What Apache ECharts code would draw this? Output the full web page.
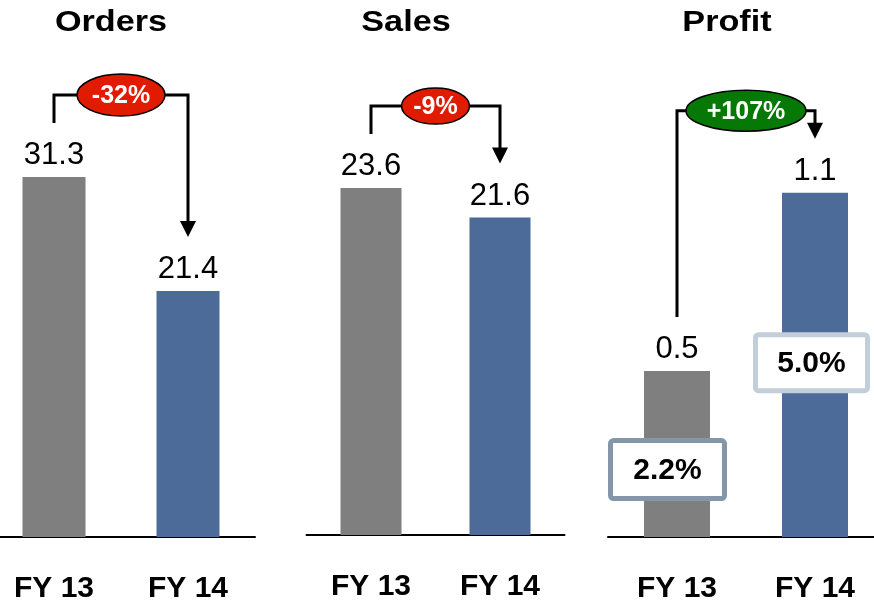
<!DOCTYPE html>
<html>
<head>
<meta charset="utf-8">
<script src="https://cdn.jsdelivr.net/npm/echarts@6/dist/echarts.min.js"></script>
<style>
html,body{margin:0;padding:0;background:#fff;}
#chart{width:874px;height:601px;}
</style>
</head>
<body>
<div id="chart"></div>
<script>
// ---- data ----
const categories = ['FY 13', 'FY 14'];
const panelTitles = ['Orders', 'Sales', 'Profit'];
const orders = [31.3, 21.4];
const sales = [23.6, 21.6];
const profit = [0.53, 1.1];
const changeLabels = ['-32%', '-9%', '+107%'];
const marginLabels = ['2.2%', '5.0%'];

const FONT = "'Liberation Sans', Arial, Helvetica, sans-serif";
const GRAY = '#7f7f7f';
const BLUE = '#4d6b99';

const chart = echarts.init(document.getElementById('chart'), null, {renderer: 'canvas'});

const grids = [
  {left: -13, width: 268, top: 77, height: 460, outerBoundsMode: 'none', containLabel: false},
  {left: 306.5, width: 258, top: 94, height: 441, outerBoundsMode: 'none', containLabel: false},
  {left: 608, width: 276, top: 67.5, height: 469.5, outerBoundsMode: 'none', containLabel: false}
];
const yMax = [40, 30, 1.5];
const barW = [63, 61, 66];
const panels = [orders, sales, profit];

const xAxes = grids.map((g, i) => ({
  type: 'category', gridIndex: i, data: categories,
  axisLine: {show: true, lineStyle: {color: '#000', width: 2}},
  axisTick: {show: false},
  axisLabel: {fontFamily: FONT, fontSize: 30, fontWeight: 'bold', color: '#000', margin: 37}
}));
const yAxes = grids.map((g, i) => ({
  type: 'value', gridIndex: i, min: 0, max: yMax[i], show: false, splitLine: {show: false}
}));
const series = panels.map((vals, i) => ({
  type: 'bar', xAxisIndex: i, yAxisIndex: i, barWidth: barW[i],
  data: vals.map((v, j) => ({value: v, itemStyle: {color: j === 0 ? GRAY : BLUE}})),
  label: {
    show: true, position: 'top', distance: 6,
    fontFamily: FONT, fontSize: 31, color: '#000',
    formatter: p => p.value.toFixed(1)
  },
  silent: true
}));

chart.setOption({
  animation: false,
  grid: grids,
  xAxis: xAxes,
  yAxis: yAxes,
  series: series
});

// ---- annotations computed from the data through the chart's scales ----
const titleX = [111, 406, 727];
const ellipseR = [[44, 21], [34, 18], [60, 20.5]];
const ellipseFill = ['#e01b00', '#e01b00', '#067806'];
const graphics = [];

panelTitles.forEach((t, i) => {
  graphics.push({
    type: 'text', x: titleX[i], y: 23, scaleX: 1.18,
    style: {text: t, font: 'bold 29px ' + FONT, fill: '#000', textAlign: 'center', textVerticalAlign: 'middle'}
  });
});

panels.forEach((vals, i) => {
  const p0 = chart.convertToPixel({seriesIndex: i}, [0, vals[0]]);
  const p1 = chart.convertToPixel({seriesIndex: i}, [1, vals[1]]);
  const hy = Math.min(p0[1], p1[1]) - 82;
  const tip = p1[1] - 54;
  graphics.push({
    type: 'polyline', z: 10,
    shape: {points: [[p0[0], p0[1] - 54], [p0[0], hy], [p1[0], hy], [p1[0], tip - 14]]},
    style: {stroke: '#000', lineWidth: 3, fill: null}
  });
  graphics.push({
    type: 'polygon', z: 10,
    shape: {points: [[p1[0] - 8, tip - 16], [p1[0] + 8, tip - 16], [p1[0], tip]]},
    style: {fill: '#000'}
  });
  const cx = (p0[0] + p1[0]) / 2;
  graphics.push({
    type: 'ellipse', z: 11,
    shape: {cx: cx, cy: hy, rx: ellipseR[i][0], ry: ellipseR[i][1]},
    style: {fill: ellipseFill[i], stroke: '#000', lineWidth: 1.5}
  });
  graphics.push({
    type: 'text', z: 12, x: cx, y: hy + 1,
    style: {text: changeLabels[i], font: 'bold 25px ' + FONT, fill: '#fff', textAlign: 'center', textVerticalAlign: 'middle'}
  });
});

// margin boxes on the profit bars
const boxDx = [-9.5, -3.5];
const boxDy = [98.5, 170];
const boxWH = [[114, 58], [112, 56]];
const boxStroke = ['#8497a9', '#c2cfdb'];
profit.forEach((v, j) => {
  const p = chart.convertToPixel({seriesIndex: 2}, [j, v]);
  const cx = p[0] + boxDx[j], cy = p[1] + boxDy[j];
  const w = boxWH[j][0], h = boxWH[j][1];
  graphics.push({
    type: 'rect', z: 10,
    shape: {x: cx - w / 2, y: cy - h / 2, width: w, height: h, r: 3},
    style: {fill: '#fff', stroke: boxStroke[j], lineWidth: 5}
  });
  graphics.push({
    type: 'text', z: 11, x: cx, y: cy + 1,
    style: {text: marginLabels[j], font: 'bold 30px ' + FONT, fill: '#000', textAlign: 'center', textVerticalAlign: 'middle'}
  });
});

chart.setOption({graphic: graphics});
</script>
</body>
</html>
